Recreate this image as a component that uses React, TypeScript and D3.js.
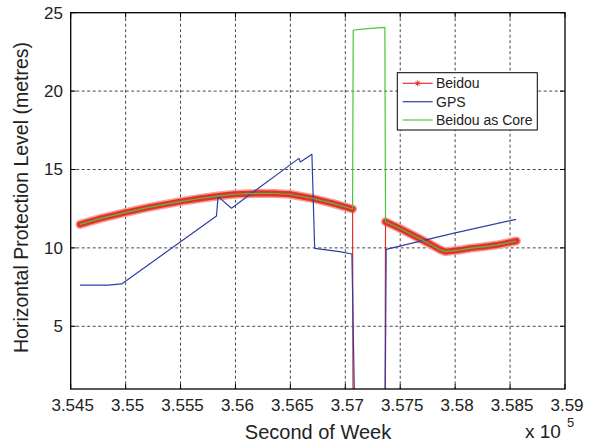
import React from "react";
import * as d3 from "d3";

// Horizontal protection level over second of week
const xTicks = [354500, 355000, 355500, 356000, 356500, 357000, 357500, 358000, 358500, 359000];
const yTicks = [5, 10, 15, 20, 25];

// Beidou, first arc (before the outage)
const arcASec = [354585, 354766, 354994, 355221, 355494, 355676, 355858, 355994, 356221, 356358, 356494, 356703, 356885, 357066];
const arcAHpl = [11.5, 11.87, 12.25, 12.6, 12.95, 13.15, 13.32, 13.42, 13.48, 13.47, 13.42, 13.15, 12.84, 12.48];

// Beidou, second arc (after the outage)
const arcBSec = [357366, 357494, 357612, 357749, 357867, 357912, 358039, 358130, 358267, 358376, 358558];
const arcBHpl = [11.67, 11.25, 10.82, 10.33, 9.87, 9.76, 9.86, 9.97, 10.08, 10.18, 10.44];

// Outage window: Beidou alone fails, Beidou as core stays high
const gapBeidouSec = [357070, 357362];
const gapBeidouHpl = [0, 0];
const gapCoreSec = [357072, 357150, 357360];
const gapCoreHpl = [23.88, 23.95, 24.07];

// GPS
const gpsSec = [354585, 354842, 354964, 355827, 355842, 355964, 356578, 356591, 356696, 356721, 356948, 357060, 357084, 357363, 357372, 357980, 358554];
const gpsHpl = [7.63, 7.63, 7.7, 12.03, 13.27, 12.53, 15.71, 15.48, 15.97, 9.97, 9.76, 9.61, 0, 0, 9.91, 10.93, 11.82];

const legendLabels = ["Beidou", "GPS", "Beidou as Core"];

type Pt = [number, number];
const zip = (s: number[], v: number[]): Pt[] => s.map((x, i) => [x, v[i]]);

const beidou: Pt[] = [...zip(arcASec, arcAHpl), ...zip(gapBeidouSec, gapBeidouHpl), ...zip(arcBSec, arcBHpl)];
const beidouMarkers: Pt[] = [...zip(arcASec, arcAHpl), ...zip(arcBSec, arcBHpl)];
const core: Pt[] = [...zip(arcASec, arcAHpl), ...zip(gapCoreSec, gapCoreHpl), ...zip(arcBSec, arcBHpl)];
const gps: Pt[] = zip(gpsSec, gpsHpl);

const W = 593;
const H = 448;
const left = 70.7;
const right = 565;
const top = 12.7;
const bottom = 389;

const RED = "#e5302a";
const BLUE = "#2f3ea6";
const GREEN = "#4cc340";
const FONT = "'Liberation Sans', Arial, Helvetica, sans-serif";

const star = "M-3,0H3M0,-3V3M-2.1,-2.1L2.1,2.1M-2.1,2.1L2.1,-2.1";

export default function App() {
  const x = d3.scaleLinear().domain([354500, 359000]).range([left, right]);
  const y = d3.scaleLinear().domain([1, 25]).range([bottom, top]);
  const line = d3.line<Pt>().x((d) => x(d[0])).y((d) => y(d[1]));

  const fmt = (v: number) => d3.format("")(+(v / 1e5).toFixed(3));

  const legX = 397.3;
  const legY = 72.7;
  const legRows = [83.3, 101.7, 120];
  const legColors = [RED, BLUE, GREEN];

  return (
    <svg width={W} height={H} style={{ position: "absolute", left: 0, top: 0, background: "#fff" }} fontFamily={FONT}>
      <defs>
        <clipPath id="plot">
          <rect x={left} y={top} width={right - left} height={bottom - top} />
        </clipPath>
      </defs>
      <rect x={0} y={0} width={W} height={H} fill="#fff" />

      {/* grid */}
      <g stroke="#333" strokeWidth={0.9} strokeDasharray="3,2.5">
        {xTicks.slice(1, -1).map((t) => (
          <line key={"gx" + t} x1={x(t)} x2={x(t)} y1={top} y2={bottom} />
        ))}
        {yTicks.slice(0, -1).map((t) => (
          <line key={"gy" + t} x1={left} x2={right} y1={y(t)} y2={y(t)} />
        ))}
      </g>

      {/* series */}
      <g clipPath="url(#plot)" fill="none" strokeLinejoin="round">
        <path d={line(zip(arcASec, arcAHpl)) || ""} stroke="#f2a19b" strokeWidth={9} strokeLinecap="round" />
        <path d={line(zip(arcBSec, arcBHpl)) || ""} stroke="#f2a19b" strokeWidth={9} strokeLinecap="round" />
        <path d={line(zip(arcASec, arcAHpl)) || ""} stroke={RED} strokeWidth={6} strokeLinecap="round" />
        <path d={line(zip(arcBSec, arcBHpl)) || ""} stroke={RED} strokeWidth={6} strokeLinecap="round" />
        <path d={line(beidou) || ""} stroke={RED} strokeWidth={1.2} />
        <g stroke={RED} strokeWidth={1}>
          {beidouMarkers.map((d, i) => (
            <path key={"m" + i} d={star} transform={`translate(${x(d[0])},${y(d[1])})`} />
          ))}
        </g>
        <path d={line(gps) || ""} stroke={BLUE} strokeWidth={1.2} />
        <path d={line(core) || ""} stroke={GREEN} strokeWidth={1.2} />
      </g>

      {/* frame and ticks */}
      <rect x={left} y={top} width={right - left} height={bottom - top} fill="none" stroke="#000" strokeWidth={1.3} />
      <g stroke="#000" strokeWidth={1}>
        {xTicks.map((t) => (
          <g key={"tx" + t}>
            <line x1={x(t)} x2={x(t)} y1={bottom} y2={bottom - 5} />
            <line x1={x(t)} x2={x(t)} y1={top} y2={top + 5} />
          </g>
        ))}
        {yTicks.map((t) => (
          <g key={"ty" + t}>
            <line x1={left} x2={left + 5} y1={y(t)} y2={y(t)} />
            <line x1={right} x2={right - 5} y1={y(t)} y2={y(t)} />
          </g>
        ))}
      </g>

      {/* tick labels */}
      <g fontSize={17} fill="#222">
        {xTicks.map((t) => (
          <text key={"lx" + t} x={x(t) + 2} y={411} textAnchor="middle">
            {fmt(t)}
          </text>
        ))}
        {yTicks.map((t) => (
          <text key={"ly" + t} x={63} y={y(t) + 6} textAnchor="end">
            {t}
          </text>
        ))}
      </g>

      {/* axis titles */}
      <text x={318} y={439} textAnchor="middle" fontSize={20} fill="#222">
        Second of Week
      </text>
      <text transform="translate(28,197.5) rotate(-90)" textAnchor="middle" fontSize={19.5} fill="#222">
        Horizontal Protection Level (metres)
      </text>
      <text x={525} y={438} fontSize={19} fill="#222">
        x 10
      </text>
      <text x={567} y={427} fontSize={13} fill="#222">
        5
      </text>

      {/* legend */}
      <rect x={legX} y={legY} width={140} height={57.3} fill="#fff" stroke="#000" strokeWidth={1} />
      {legendLabels.map((lab, i) => (
        <g key={lab}>
          <line x1={402.7} x2={432.7} y1={legRows[i]} y2={legRows[i]} stroke={legColors[i]} strokeWidth={1.2} />
          {i === 0 && <path d={star} transform={`translate(417.7,${legRows[i]})`} stroke={RED} strokeWidth={1} />}
          <text x={436} y={legRows[i] + 5} fontSize={14} fill="#222">
            {lab}
          </text>
        </g>
      ))}
    </svg>
  );
}
